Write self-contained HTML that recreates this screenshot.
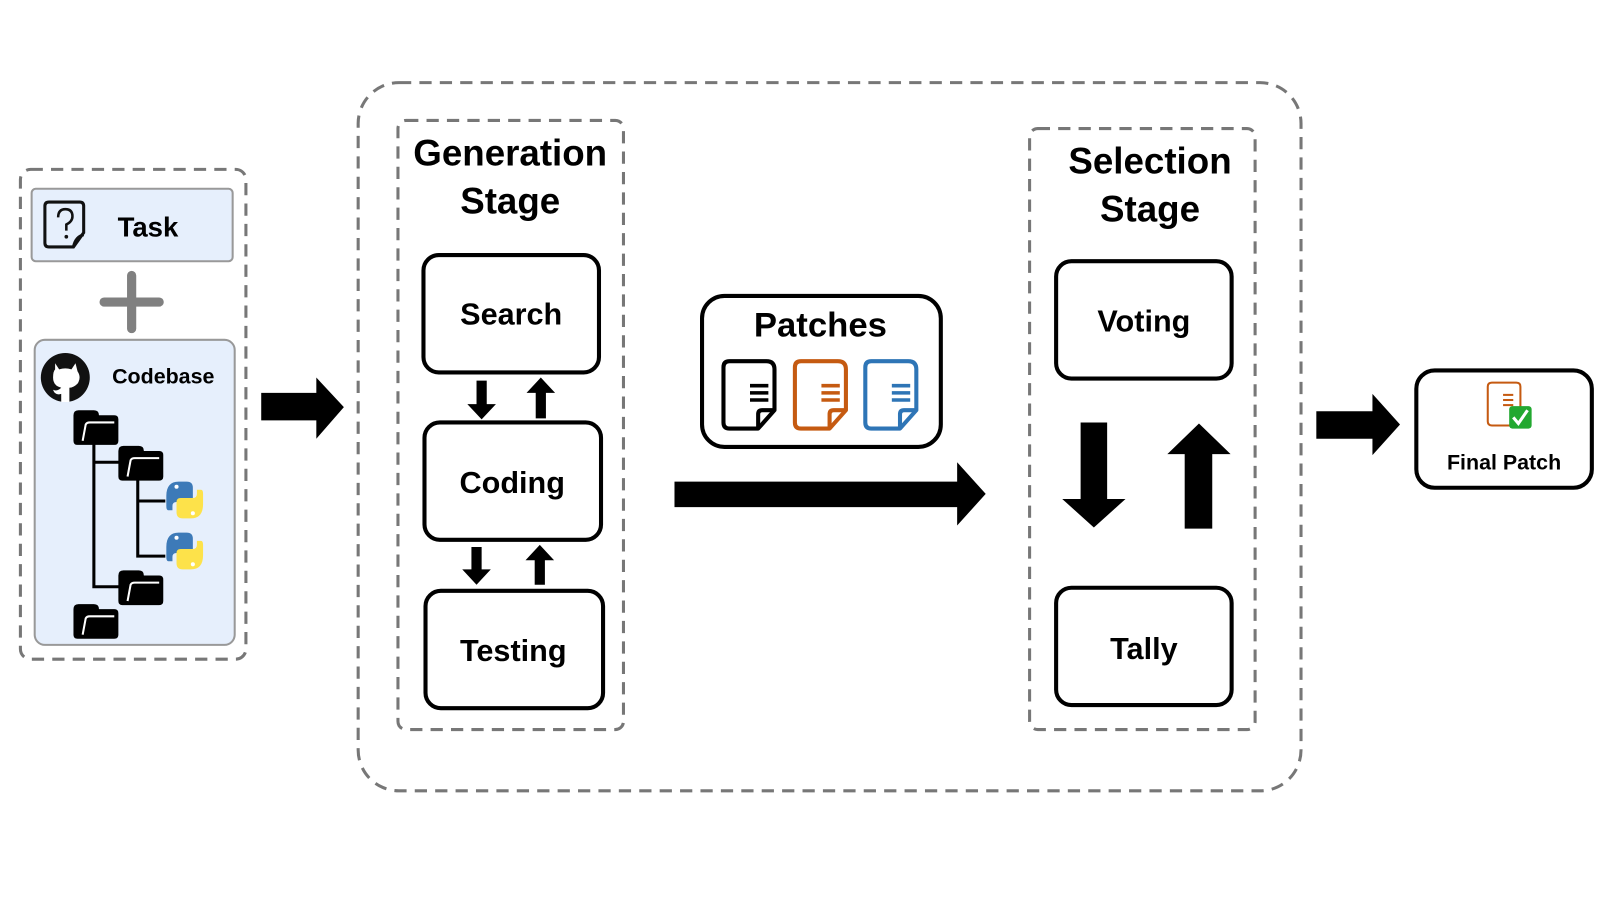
<!DOCTYPE html>
<html><head><meta charset="utf-8"><style>
html,body{margin:0;padding:0;background:#fff;width:1600px;height:900px;overflow:hidden}
text{font-family:"Liberation Sans","DejaVu Sans",sans-serif;font-weight:bold;fill:#000}
</style></head><body>
<svg width="1600" height="900" viewBox="0 0 1568 882" xmlns="http://www.w3.org/2000/svg">
<defs>
<g id="py">
 <path d="M0,14 Q0,0 12,0 L20,0 Q26,0 26,6 L26,16 Q26,20 22,20 L10,20 Q6,20 6,24 L6,28 L2,28 Q0,28 0,24 Z" fill="#3d7ab8"/>
 <path d="M36,22 Q36,36 24,36 L16,36 Q10,36 10,30 L10,20 Q10,16 14,16 L26,16 Q30,16 30,12 L30,8 L34,8 Q36,8 36,12 Z" fill="#fde24a"/>
 <circle cx="10" cy="5" r="2" fill="#fff"/><circle cx="26" cy="31" r="2" fill="#fff"/>
</g>
<g id="fold">
 <path d="M5,0 L20,0 Q25,0 25,5 L40,5 Q44,5 44,9 L44,30 Q44,34 40,34 L4,34 Q0,34 0,30 L0,5 Q0,0 5,0 Z" fill="#000"/>
 <path d="M9,30 L12,14 Q13,12 16,12 L40,12" stroke="#fff" stroke-width="2" fill="none"/>
</g>
<g id="doc">
 <path d="M8,2 L44,2 Q52,2 52,10 L52,50 L36,68 L8,68 Q2,68 2,62 L2,8 Q2,2 8,2 Z" fill="#fff" stroke-width="4" stroke-linejoin="round"/>
 <path d="M52,50 L40,50 Q36,50 36,54 L36,68" fill="none" stroke-width="4" stroke-linejoin="round"/>
 <line x1="28" y1="26" x2="46" y2="26" stroke-width="3.5"/>
 <line x1="28" y1="33" x2="46" y2="33" stroke-width="3.5"/>
 <line x1="28" y1="40" x2="46" y2="40" stroke-width="3.5"/>
</g>
</defs>

<rect x="20" y="166" width="221" height="480" rx="10" fill="none" stroke="#777" stroke-width="3" stroke-dasharray="12,8"/>
<rect x="31" y="185" width="197" height="71" rx="4" fill="#e6effc" stroke="#999" stroke-width="2"/>
<path d="M48,198 L78,198 Q82,198 82,202 L82,228 L72,242 L48,242 Q44,242 44,238 L44,202 Q44,198 48,198 Z" fill="none" stroke="#111" stroke-width="3"/>
<path d="M82,230 Q74,232 72,242" fill="none" stroke="#111" stroke-width="3"/>
<path d="M57,213 Q57,205 64,205 Q71,205 71,212 Q71,217 65,220 L65,226" fill="none" stroke="#111" stroke-width="2.5"/>
<circle cx="65" cy="232" r="1.8" fill="#111"/>
<text x="145" y="232" font-size="27" text-anchor="middle">Task</text>
<line x1="129" y1="270" x2="129" y2="322" stroke="#808080" stroke-width="9" stroke-linecap="round"/>
<line x1="102" y1="296" x2="156" y2="296" stroke="#808080" stroke-width="9" stroke-linecap="round"/>
<rect x="34" y="333" width="196" height="299" rx="10" fill="#e6effc" stroke="#999" stroke-width="2"/>
<circle cx="64" cy="370" r="24" fill="#111"/>
<path d="M54,356 L58,362 Q64,360 70,362 L74,356 L76,364 Q80,370 76,376 Q72,380 68,380 L68,394 L60,394 L60,386 Q54,388 52,382 Q56,384 60,380 Q52,378 52,370 Q52,364 54,362 Z" fill="#fff"/>
<text x="160" y="376" font-size="21" text-anchor="middle">Codebase</text>
<path d="M92,435 L92,575 L118,575 M92,453 L118,453 M135,470 L135,545 L162,545 M135,491 L162,491" fill="none" stroke="#000" stroke-width="3"/>
<use href="#fold" x="72" y="402"/>
<use href="#fold" x="116" y="437"/>
<use href="#fold" x="116" y="559"/>
<use href="#fold" x="72" y="592"/>
<use href="#py" x="163" y="472"/>
<use href="#py" x="163" y="522"/>

<path d="M256,385 L310,385 L310,370 L337,399 L310,430 L310,412 L256,412 Z" fill="#000"/>

<rect x="351" y="81" width="924" height="694" rx="40" fill="none" stroke="#777" stroke-width="3" stroke-dasharray="12,8"/>

<rect x="390" y="118" width="221" height="597" rx="8" fill="none" stroke="#777" stroke-width="3" stroke-dasharray="12,8"/>
<text x="500" y="162" font-size="36" text-anchor="middle">Generation</text>
<text x="500" y="209" font-size="36" text-anchor="middle">Stage</text>
<rect x="415" y="250" width="172" height="115" rx="15" fill="#fff" stroke="#000" stroke-width="4"/>
<text x="501" y="318" font-size="30" text-anchor="middle">Search</text>
<rect x="416" y="414" width="173" height="115" rx="15" fill="#fff" stroke="#000" stroke-width="4"/>
<text x="502" y="483" font-size="30" text-anchor="middle">Coding</text>
<rect x="417" y="579" width="174" height="115" rx="15" fill="#fff" stroke="#000" stroke-width="4"/>
<text x="503" y="648" font-size="30" text-anchor="middle">Testing</text>
<path d="M467,373 L477,373 L477,396 L486,396 L472,411 L458,396 L467,396 Z" fill="#000"/>
<path d="M525,410 L535,410 L535,385 L544,385 L530,370 L516,385 L525,385 Z" fill="#000"/>
<path d="M462,536 L472,536 L472,558 L481,558 L467,573 L453,558 L462,558 Z" fill="#000"/>
<path d="M524,573 L534,573 L534,549 L543,549 L529,534 L515,549 L524,549 Z" fill="#000"/>

<rect x="688" y="290" width="234" height="148" rx="22" fill="#fff" stroke="#000" stroke-width="4"/>
<text x="804" y="330" font-size="34" text-anchor="middle">Patches</text>
<use href="#doc" x="707" y="352" stroke="#000"/>
<use href="#doc" x="777" y="352" stroke="#c55a11"/>
<use href="#doc" x="846" y="352" stroke="#2e75b6"/>

<path d="M661,472 L938,472 L938,453 L966,484 L938,515 L938,497 L661,497 Z" fill="#000"/>

<rect x="1009" y="126" width="221" height="589" rx="8" fill="none" stroke="#777" stroke-width="3" stroke-dasharray="12,8"/>
<text x="1127" y="170" font-size="36" text-anchor="middle">Selection</text>
<text x="1127" y="217" font-size="36" text-anchor="middle">Stage</text>
<rect x="1035" y="256" width="172" height="115" rx="15" fill="#fff" stroke="#000" stroke-width="4"/>
<text x="1121" y="325" font-size="30" text-anchor="middle">Voting</text>
<rect x="1035" y="576" width="172" height="115" rx="15" fill="#fff" stroke="#000" stroke-width="4"/>
<text x="1121" y="646" font-size="30" text-anchor="middle">Tally</text>
<path d="M1059,414 L1085,414 L1085,489 L1103,489 L1072,517 L1041,489 L1059,489 Z" fill="#000"/>
<path d="M1161,518 L1188,518 L1188,445 L1206,445 L1175,415 L1144,445 L1161,445 Z" fill="#000"/>

<path d="M1290,403 L1345,403 L1345,386 L1372,416 L1345,446 L1345,430 L1290,430 Z" fill="#000"/>

<rect x="1388" y="363" width="172" height="115" rx="18" fill="#fff" stroke="#000" stroke-width="4"/>
<path d="M1462,375 L1486,375 Q1490,375 1490,379 L1490,413 Q1490,417 1486,417 L1462,417 Q1458,417 1458,413 L1458,379 Q1458,375 1462,375 Z" fill="#fff" stroke="#c55a11" stroke-width="2"/>
<line x1="1473" y1="387" x2="1483" y2="387" stroke="#c55a11" stroke-width="2"/>
<line x1="1473" y1="392" x2="1483" y2="392" stroke="#c55a11" stroke-width="2"/>
<line x1="1473" y1="397" x2="1483" y2="397" stroke="#c55a11" stroke-width="2"/>
<rect x="1479" y="398" width="22" height="22" rx="3" fill="#22a830"/>
<path d="M1483,409 L1488,415 L1497,402" fill="none" stroke="#fff" stroke-width="3"/>
<text x="1474" y="460" font-size="21" text-anchor="middle">Final Patch</text>
</svg>
</body></html>
